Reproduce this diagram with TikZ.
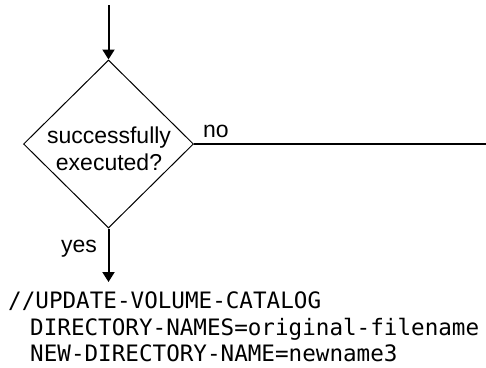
\documentclass[tikz,border=0pt]{standalone}
\usepackage{fontspec}
\setmainfont{Liberation Sans}
\newfontfamily\codefont{DejaVu Sans Mono}
\usetikzlibrary{shapes.geometric,arrows.meta}
\tikzset{
  decision/.style={diamond, draw, line width=1pt, minimum width=170pt, minimum height=168pt, inner sep=0pt},
  labeltext/.style={inner sep=0pt, font=\fontsize{23}{27}\selectfont},
  codetext/.style={inner sep=0pt, anchor=base west, font=\codefont\fontsize{22.6}{26}\selectfont},
  flow/.style={line width=2pt, -{Triangle[length=10pt,width=12pt]}},
  plainline/.style={line width=2pt}
}
\begin{document}
\begin{tikzpicture}[x=1pt,y=-1pt]
\useasboundingbox (0,0) rectangle (486,367);
\node[decision] (dec) at (108.5,144) {};
\node[labeltext, align=center, anchor=base] (q1) at (109,143) {successfully};
\node[labeltext, align=center, anchor=base] (q2) at (109,170) {executed?};
\coordinate (start) at (108.5,5);
\coordinate (bot) at (108.5,282);
\coordinate (noend) at (486,144);
\draw[flow] (start) -- (dec.north);
\draw[flow] (dec.south) -- (bot);
\draw[plainline] (dec.east) -- (noend);
\node[labeltext, anchor=base west] (no) at (203,137) {no};
\node[labeltext, anchor=base east] (yes) at (97,252) {yes};
\node[codetext] (cmd1) at (8,308) {//UPDATE-VOLUME-CATALOG};
\node[codetext] (cmd2) at (30,335) {DIRECTORY-NAMES=original-filename};
\node[codetext] (cmd3) at (30,361) {NEW-DIRECTORY-NAME=newname3};
\end{tikzpicture}
\end{document}
